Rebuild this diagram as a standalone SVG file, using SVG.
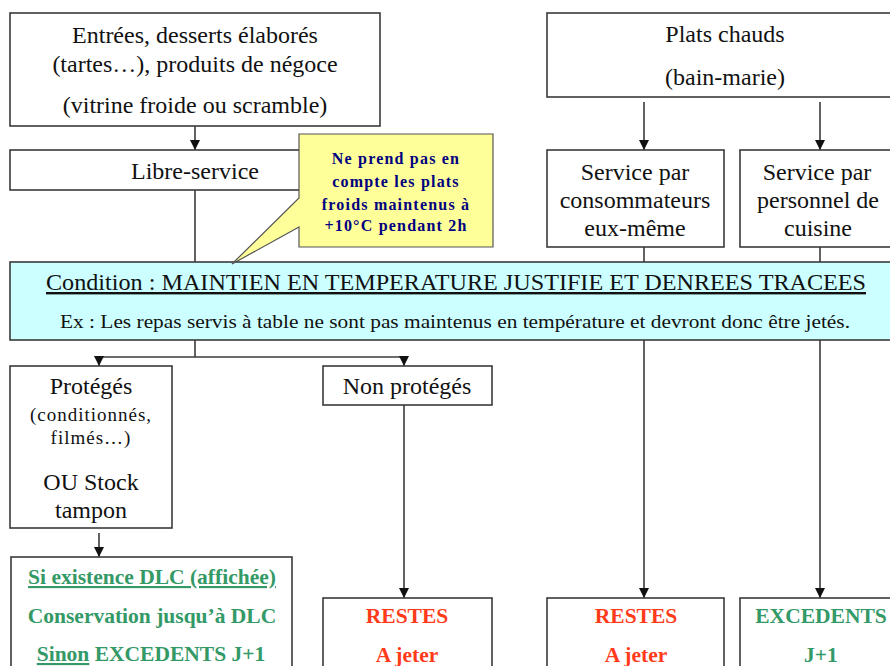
<svg xmlns="http://www.w3.org/2000/svg" width="890" height="666" viewBox="0 0 890 666">
  <defs>
    <marker id="arrow" viewBox="0 0 10 10" refX="10" refY="5" markerWidth="10" markerHeight="10" markerUnits="userSpaceOnUse" orient="auto">
      <path d="M0,0 L10,5 L0,10 z" fill="#111"/>
    </marker>
    <style>
      .box { fill: #ffffff; stroke: #3a3a3a; stroke-width: 1.6; }
      .cond { fill: #ccffff; stroke: #3a3a3a; stroke-width: 1.6; }
      .note { fill: #ffff99; stroke: #555555; stroke-width: 1.2; }
      text { font-family: 'Liberation Serif', 'DejaVu Serif', 'Times New Roman', serif; }
      .t { font-size: 24px; fill: #111111; text-anchor: middle; }
      .s { font-size: 19px; letter-spacing: 1px; }
      .nt { font-size: 16px; font-weight: bold; fill: #000080; text-anchor: middle; letter-spacing: 1.2px; }
      .g { font-size: 21.5px; font-weight: bold; fill: #339966; text-anchor: middle; }
      .r { font-size: 21.5px; font-weight: bold; fill: #ff3b1a; text-anchor: middle; }
      .line { fill: none; stroke: #3a3a3a; stroke-width: 1.6; }
      .arr { fill: none; stroke: #3a3a3a; stroke-width: 1.6; marker-end: url(#arrow); }
    </style>
  </defs>
  <rect width="890" height="666" fill="#ffffff"/>

  <!-- connectors -->
  <g id="connectors">
    <line class="arr" x1="195" y1="126" x2="195" y2="150"/>
    <line class="line" x1="195" y1="190" x2="195" y2="262"/>
    <line class="arr" x1="644" y1="102" x2="644" y2="150"/>
    <line class="arr" x1="820" y1="102" x2="820" y2="150"/>
    <line class="line" x1="644" y1="247" x2="644" y2="262"/>
    <line class="line" x1="820" y1="247" x2="820" y2="262"/>
    <polyline class="line" points="195,340 195,357"/>
    <polyline class="line" points="99,357 404,357"/>
    <line class="arr" x1="99" y1="357" x2="99" y2="366"/>
    <line class="arr" x1="404" y1="357" x2="404" y2="366"/>
    <line class="arr" x1="99" y1="533" x2="99" y2="557"/>
    <line class="arr" x1="404" y1="405" x2="404" y2="598"/>
    <line class="arr" x1="644" y1="340" x2="644" y2="598"/>
    <line class="arr" x1="820" y1="340" x2="820" y2="598"/>
  </g>

  <g id="entrees">
    <rect class="box" x="10" y="13" width="370" height="113"/>
    <text class="t" x="195" y="43">Entrées, desserts élaborés</text>
    <text class="t" x="195" y="72">(tartes…), produits de négoce</text>
    <text class="t" x="195" y="113">(vitrine froide ou scramble)</text>
  </g>

  <g id="libre-service">
    <rect class="box" x="10" y="150" width="370" height="40"/>
    <text class="t" x="195" y="179">Libre-service</text>
  </g>

  <g id="plats-chauds">
    <rect class="box" x="547" y="13" width="360" height="84"/>
    <text class="t" x="725" y="42">Plats chauds</text>
    <text class="t" x="725" y="85">(bain-marie)</text>
  </g>

  <g id="service-consommateurs">
    <rect class="box" x="547" y="150" width="177" height="97"/>
    <text class="t" x="635" y="180">Service par</text>
    <text class="t" x="635" y="208">consommateurs</text>
    <text class="t" x="635" y="236">eux-même</text>
  </g>

  <g id="service-personnel">
    <rect class="box" x="740" y="150" width="170" height="97"/>
    <text class="t" x="817" y="180">Service par</text>
    <text class="t" x="818" y="208">personnel de</text>
    <text class="t" x="818" y="236">cuisine</text>
  </g>

  <g id="condition">
    <rect class="cond" x="10" y="262" width="900" height="78"/>
    <text class="t" x="456" y="290" textLength="820" lengthAdjust="spacingAndGlyphs" text-decoration="underline">Condition : MAINTIEN EN TEMPERATURE JUSTIFIE ET DENREES TRACEES</text>
    <text class="t" x="455" y="328" style="font-size:18px" textLength="790" lengthAdjust="spacingAndGlyphs">Ex : Les repas servis à table ne sont pas maintenus en température et devront donc être jetés.</text>
  </g>

  <g id="note">
    <path class="note" d="M299,134 H493 V247 H299 V227 L232,264 L299,198 Z"/>
    <text class="nt" x="396" y="164">Ne prend pas en</text>
    <text class="nt" x="396" y="187">compte les plats</text>
    <text class="nt" x="396" y="210">froids maintenus à</text>
    <text class="nt" x="396" y="231">+10°C pendant 2h</text>
  </g>

  <g id="proteges">
    <rect class="box" x="10" y="366" width="162" height="162"/>
    <text class="t" x="91" y="394">Protégés</text>
    <text class="t s" x="91" y="421">(conditionnés,</text>
    <text class="t s" x="91" y="444">filmés…)</text>
    <text class="t" x="91" y="490">OU Stock</text>
    <text class="t" x="91" y="518">tampon</text>
  </g>

  <g id="non-proteges">
    <rect class="box" x="323" y="366" width="169" height="39"/>
    <text class="t" x="407" y="394">Non protégés</text>
  </g>

  <g id="dlc">
    <rect class="box" x="11" y="557" width="281" height="120"/>
    <text class="g" x="152" y="584" text-decoration="underline">Si existence DLC (affichée)</text>
    <text class="g" x="152" y="623">Conservation jusqu’à DLC</text>
    <text class="g" x="151" y="661"><tspan text-decoration="underline">Sinon</tspan> EXCEDENTS J+1</text>
  </g>

  <g id="restes-1">
    <rect class="box" x="323" y="598" width="169" height="80"/>
    <text class="r" x="407" y="623">RESTES</text>
    <text class="r" x="407" y="662">A jeter</text>
  </g>

  <g id="restes-2">
    <rect class="box" x="547" y="598" width="177" height="80"/>
    <text class="r" x="636" y="623">RESTES</text>
    <text class="r" x="636" y="662">A jeter</text>
  </g>

  <g id="excedents">
    <rect class="box" x="740" y="598" width="170" height="80"/>
    <text class="g" x="821" y="623">EXCEDENTS</text>
    <text class="g" x="821" y="662">J+1</text>
  </g>
</svg>
